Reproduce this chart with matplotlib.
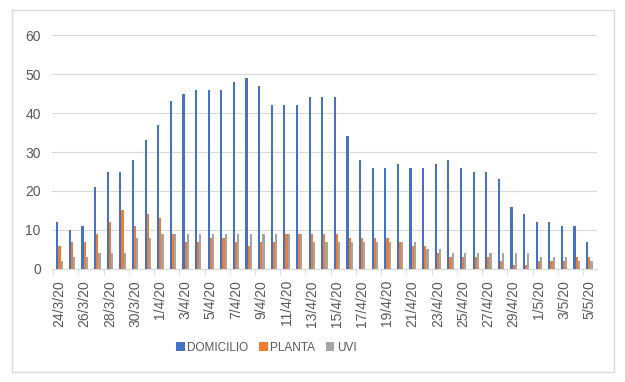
import matplotlib
matplotlib.use("Agg")
import matplotlib.pyplot as plt
import numpy as np
import pandas as pd

plt.rcParams['font.family'] = ['Liberation Sans', 'DejaVu Sans']

fechas = pd.date_range("2020-03-24", "2020-05-05", freq="D")
etiquetas = [f"{d.day}/{d.month}/20" for d in fechas]

domicilio = [12, 10, 11, 21, 25, 25, 28, 33, 37, 43, 45, 46, 46, 46, 48,
             49, 47, 42, 42, 42, 44, 44, 44, 34, 28, 26, 26, 27, 26, 26,
             27, 28, 26, 25, 25, 23, 16, 14, 12, 12, 11, 11, 7]
planta = [6, 7, 7, 9, 12, 15, 11, 14, 13, 9, 7, 7, 8, 8, 7,
          6, 7, 7, 9, 9, 9, 9, 9, 8, 8, 8, 8, 7, 6, 6,
          4, 3, 3, 3, 3, 2, 1, 1, 2, 2, 2, 3, 3]
uvi = [2, 3, 3, 4, 4, 4, 8, 8, 9, 9, 9, 9, 9, 9, 9,
       9, 9, 9, 9, 9, 7, 7, 7, 7, 7, 7, 7, 7, 7, 5,
       5, 4, 4, 4, 4, 4, 4, 4, 3, 3, 3, 2, 2]

series = [("DOMICILIO", domicilio, "#4472C4"),
          ("PLANTA", planta, "#ED7D31"),
          ("UVI", uvi, "#A5A5A5")]

fig = plt.figure(figsize=(6.25, 3.82), dpi=100)
ax = fig.add_axes([0.083, 0.296, 0.872, 0.612])

x = np.arange(len(etiquetas))
w = 0.17
for i, (nombre, vals, color) in enumerate(series):
    ax.bar(x + (i - 1) * w, vals, width=w, color=color, label=nombre, zorder=3)

ax.set_xlim(-0.6, len(x) - 0.4)
ax.set_ylim(0, 60)
ax.set_yticks(range(0, 61, 10))
ax.grid(axis='y', color='#D9D9D9', linewidth=0.8, zorder=0)
for s in ['top', 'right', 'left']:
    ax.spines[s].set_visible(False)
ax.spines['bottom'].set_color('#D9D9D9')
ax.tick_params(axis='y', length=0, labelsize=10, labelcolor='#595959', pad=8)

ax.set_xticks(x[::2])
ax.set_xticklabels(etiquetas[::2], rotation=90, fontsize=10, color='#595959')
ax.tick_params(axis='x', which='major', length=0, pad=8)
ax.set_xticks(np.arange(-0.5, len(x), 2), minor=True)
ax.tick_params(axis='x', which='minor', length=4, color='#D9D9D9')

ax.legend(loc='center', bbox_to_anchor=(0.393, -0.337), ncol=3, frameon=False,
          fontsize=8.5, handlelength=0.75, handleheight=0.75, handletextpad=0.2,
          columnspacing=0.9, labelcolor='#595959')

fig.patches.append(plt.Rectangle((12 / 625, 10 / 382), 602 / 625, 362 / 382,
                                 transform=fig.transFigure, fill=False,
                                 edgecolor='#D9D9D9', linewidth=1))

fig.savefig("out.png", dpi=100)
